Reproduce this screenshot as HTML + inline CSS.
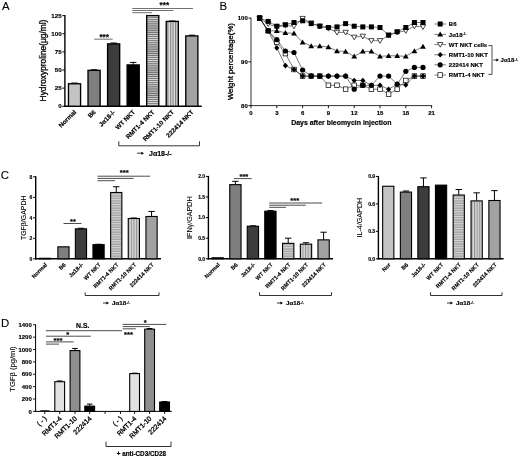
<!DOCTYPE html>
<html><head><meta charset="utf-8"><title>Figure</title>
<style>html,body{margin:0;padding:0;background:#fff}svg{display:block;filter:blur(0.35px)}text{font-family:"Liberation Sans", sans-serif;stroke:#000;stroke-width:0.16px}text[font-weight=normal]{stroke-width:0.1px}</style>
</head><body>
<svg width="520" height="457" viewBox="0 0 520 457">
<defs>
<pattern id="hs" width="4" height="2.1" patternUnits="userSpaceOnUse"><rect width="4" height="2.1" fill="#dcdcdc"/><rect y="0.3" width="4" height="0.95" fill="#565656"/></pattern>
<pattern id="hsc" width="4" height="2.4" patternUnits="userSpaceOnUse"><rect width="4" height="2.4" fill="#a4a4a4"/><rect y="0.2" width="4" height="0.8" fill="#e6e6e6"/></pattern>
<pattern id="vs" width="2.6" height="4" patternUnits="userSpaceOnUse"><rect width="2.6" height="4" fill="#e6e6e6"/><rect x="0.9" width="1.2" height="4" fill="#7c7c7c"/></pattern>
<pattern id="vsc" width="2.6" height="4" patternUnits="userSpaceOnUse"><rect width="2.6" height="4" fill="#d4d4d4"/><rect x="0.9" width="1.0" height="4" fill="#939393"/></pattern>
<pattern id="dt" width="1" height="1" patternUnits="userSpaceOnUse"><rect width="1" height="1" fill="#b4b4b4"/><rect width="0.5" height="0.5" fill="#8c8c8c"/><rect x="0.5" y="0.5" width="0.5" height="0.5" fill="#8c8c8c"/></pattern>
</defs>
<rect width="520" height="457" fill="#fff"/>
<text x="2.00" y="10.10" font-size="11.4" font-weight="normal" text-anchor="start" fill="#000">A</text>
<text x="219.60" y="10.10" font-size="11.4" font-weight="normal" text-anchor="start" fill="#000">B</text>
<text x="0.70" y="179.30" font-size="11.4" font-weight="normal" text-anchor="start" fill="#000">C</text>
<text x="0.90" y="327.10" font-size="11.4" font-weight="normal" text-anchor="start" fill="#000">D</text>
<line x1="64.90" y1="15.12" x2="64.90" y2="106.95" stroke="#000" stroke-width="1.4"/>
<line x1="64.20" y1="106.25" x2="201.80" y2="106.25" stroke="#000" stroke-width="1.5"/>
<line x1="62.30" y1="106.25" x2="64.90" y2="106.25" stroke="#000" stroke-width="1.0"/>
<text x="61.60" y="108.48" font-size="6.2" font-weight="bold" text-anchor="end" fill="#000">0</text>
<line x1="62.30" y1="88.12" x2="64.90" y2="88.12" stroke="#000" stroke-width="1.0"/>
<text x="61.60" y="90.36" font-size="6.2" font-weight="bold" text-anchor="end" fill="#000">25</text>
<line x1="62.30" y1="70.00" x2="64.90" y2="70.00" stroke="#000" stroke-width="1.0"/>
<text x="61.60" y="72.23" font-size="6.2" font-weight="bold" text-anchor="end" fill="#000">50</text>
<line x1="62.30" y1="51.88" x2="64.90" y2="51.88" stroke="#000" stroke-width="1.0"/>
<text x="61.60" y="54.11" font-size="6.2" font-weight="bold" text-anchor="end" fill="#000">75</text>
<line x1="62.30" y1="33.75" x2="64.90" y2="33.75" stroke="#000" stroke-width="1.0"/>
<text x="61.60" y="35.98" font-size="6.2" font-weight="bold" text-anchor="end" fill="#000">100</text>
<line x1="62.30" y1="15.62" x2="64.90" y2="15.62" stroke="#000" stroke-width="1.0"/>
<text x="61.60" y="17.86" font-size="6.2" font-weight="bold" text-anchor="end" fill="#000">125</text>
<line x1="74.52" y1="83.78" x2="74.52" y2="83.05" stroke="#000" stroke-width="1.0"/>
<line x1="71.32" y1="83.05" x2="77.72" y2="83.05" stroke="#000" stroke-width="1.0"/>
<rect x="68.47" y="83.78" width="12.10" height="22.47" fill="#c4c4c4" stroke="#000" stroke-width="1.35"/>
<text x="76.72" y="112.65" font-size="6.3" font-weight="bold" text-anchor="end" fill="#000" transform="rotate(-45 76.72 112.65)">Normal</text>
<line x1="94.07" y1="70.36" x2="94.07" y2="69.78" stroke="#000" stroke-width="1.0"/>
<line x1="90.87" y1="69.78" x2="97.27" y2="69.78" stroke="#000" stroke-width="1.0"/>
<rect x="88.02" y="70.36" width="12.10" height="35.89" fill="#7f7f7f" stroke="#000" stroke-width="1.35"/>
<text x="96.27" y="112.65" font-size="6.3" font-weight="bold" text-anchor="end" fill="#000" transform="rotate(-45 96.27 112.65)">B6</text>
<line x1="113.62" y1="43.90" x2="113.62" y2="43.03" stroke="#000" stroke-width="1.0"/>
<line x1="110.42" y1="43.03" x2="116.83" y2="43.03" stroke="#000" stroke-width="1.0"/>
<rect x="107.58" y="43.90" width="12.10" height="62.35" fill="#3c3c3c" stroke="#000" stroke-width="1.35"/>
<text x="115.83" y="112.65" font-size="6.3" font-weight="bold" text-anchor="end" fill="#000" transform="rotate(-45 115.83 112.65)">Jα18-/-</text>
<line x1="133.18" y1="64.93" x2="133.18" y2="62.39" stroke="#000" stroke-width="1.0"/>
<line x1="129.98" y1="62.39" x2="136.38" y2="62.39" stroke="#000" stroke-width="1.0"/>
<rect x="127.12" y="64.93" width="12.10" height="41.32" fill="#000" stroke="#000" stroke-width="1.35"/>
<text x="135.38" y="112.65" font-size="6.3" font-weight="bold" text-anchor="end" fill="#000" transform="rotate(-45 135.38 112.65)">WT NKT</text>
<rect x="146.68" y="15.62" width="12.10" height="90.62" fill="url(#hs)" stroke="#000" stroke-width="1.35"/>
<text x="154.92" y="112.65" font-size="6.3" font-weight="bold" text-anchor="end" fill="#000" transform="rotate(-45 154.92 112.65)">RMT1-4 NKT</text>
<line x1="172.28" y1="21.42" x2="172.28" y2="20.99" stroke="#000" stroke-width="1.0"/>
<line x1="169.08" y1="20.99" x2="175.47" y2="20.99" stroke="#000" stroke-width="1.0"/>
<rect x="166.23" y="21.42" width="12.10" height="84.83" fill="url(#vs)" stroke="#000" stroke-width="1.35"/>
<text x="174.47" y="112.65" font-size="6.3" font-weight="bold" text-anchor="end" fill="#000" transform="rotate(-45 174.47 112.65)">RMT1-10 NKT</text>
<line x1="191.83" y1="35.92" x2="191.83" y2="35.20" stroke="#000" stroke-width="1.0"/>
<line x1="188.63" y1="35.20" x2="195.03" y2="35.20" stroke="#000" stroke-width="1.0"/>
<rect x="185.78" y="35.92" width="12.10" height="70.33" fill="url(#dt)" stroke="#000" stroke-width="1.35"/>
<text x="194.03" y="112.65" font-size="6.3" font-weight="bold" text-anchor="end" fill="#000" transform="rotate(-45 194.03 112.65)">222414 NKT</text>
<text x="45.60" y="60.50" font-size="8.35" font-weight="normal" text-anchor="middle" fill="#000" transform="rotate(-90 45.60 60.50)" style="stroke-width:0.3px">Hydroxyproline(μg/ml)</text>
<polyline points="118.80,141.30 118.80,145.80 199.50,145.80 199.50,141.30" fill="none" stroke="#000" stroke-width="0.8"/>
<line x1="137.00" y1="153.20" x2="142.50" y2="153.20" stroke="#000" stroke-width="0.8"/>
<polygon points="144.00,153.20 141.40,151.70 141.40,154.70" fill="#000"/>
<text x="149.00" y="155.72" font-size="7.0" font-weight="bold" text-anchor="start" fill="#000">Jα18-/-</text>
<line x1="94.20" y1="39.20" x2="112.70" y2="39.20" stroke="#222" stroke-width="0.65"/>
<text x="104.20" y="40.20" font-size="8.2" font-weight="bold" text-anchor="middle" fill="#000">***</text>
<line x1="132.30" y1="8.50" x2="193.00" y2="8.50" stroke="#222" stroke-width="0.65"/>
<line x1="132.30" y1="10.50" x2="173.40" y2="10.50" stroke="#222" stroke-width="0.65"/>
<line x1="132.30" y1="12.70" x2="152.00" y2="12.70" stroke="#222" stroke-width="0.65"/>
<text x="164.30" y="7.50" font-size="8.2" font-weight="bold" text-anchor="middle" fill="#000">***</text>
<line x1="251.00" y1="17.70" x2="251.00" y2="106.00" stroke="#333" stroke-width="1.0"/>
<line x1="250.50" y1="105.60" x2="432.10" y2="105.60" stroke="#333" stroke-width="1.0"/>
<line x1="248.40" y1="105.60" x2="251.00" y2="105.60" stroke="#000" stroke-width="0.9"/>
<text x="247.80" y="107.80" font-size="6" font-weight="bold" text-anchor="end" fill="#000">80</text>
<line x1="248.40" y1="61.85" x2="251.00" y2="61.85" stroke="#000" stroke-width="0.9"/>
<text x="247.80" y="64.05" font-size="6" font-weight="bold" text-anchor="end" fill="#000">90</text>
<line x1="248.40" y1="18.10" x2="251.00" y2="18.10" stroke="#000" stroke-width="0.9"/>
<text x="247.80" y="20.30" font-size="6" font-weight="bold" text-anchor="end" fill="#000">100</text>
<line x1="251.00" y1="105.60" x2="251.00" y2="108.20" stroke="#000" stroke-width="0.9"/>
<text x="251.00" y="114.60" font-size="6" font-weight="bold" text-anchor="middle" fill="#000">0</text>
<line x1="276.80" y1="105.60" x2="276.80" y2="108.20" stroke="#000" stroke-width="0.9"/>
<text x="276.80" y="114.60" font-size="6" font-weight="bold" text-anchor="middle" fill="#000">3</text>
<line x1="302.60" y1="105.60" x2="302.60" y2="108.20" stroke="#000" stroke-width="0.9"/>
<text x="302.60" y="114.60" font-size="6" font-weight="bold" text-anchor="middle" fill="#000">6</text>
<line x1="328.40" y1="105.60" x2="328.40" y2="108.20" stroke="#000" stroke-width="0.9"/>
<text x="328.40" y="114.60" font-size="6" font-weight="bold" text-anchor="middle" fill="#000">9</text>
<line x1="354.20" y1="105.60" x2="354.20" y2="108.20" stroke="#000" stroke-width="0.9"/>
<text x="354.20" y="114.60" font-size="6" font-weight="bold" text-anchor="middle" fill="#000">12</text>
<line x1="380.00" y1="105.60" x2="380.00" y2="108.20" stroke="#000" stroke-width="0.9"/>
<text x="380.00" y="114.60" font-size="6" font-weight="bold" text-anchor="middle" fill="#000">15</text>
<line x1="405.80" y1="105.60" x2="405.80" y2="108.20" stroke="#000" stroke-width="0.9"/>
<text x="405.80" y="114.60" font-size="6" font-weight="bold" text-anchor="middle" fill="#000">18</text>
<line x1="431.60" y1="105.60" x2="431.60" y2="108.20" stroke="#000" stroke-width="0.9"/>
<text x="431.60" y="114.60" font-size="6" font-weight="bold" text-anchor="middle" fill="#000">21</text>
<text x="341.30" y="125.20" font-size="6.95" font-weight="bold" text-anchor="middle" fill="#000">Days after bleomycin injection</text>
<text x="232.90" y="61.60" font-size="7.75" font-weight="normal" text-anchor="middle" fill="#000" transform="rotate(-90 232.90 61.60)" style="stroke-width:0.3px">Weight percentage(%)</text>
<polyline points="259.60,18.10 268.20,30.80 276.80,42.20 285.40,53.60 294.00,69.50 302.60,76.10 311.20,76.10 319.80,76.10 328.40,85.30 337.00,85.30 345.60,89.20 354.20,85.30 362.80,85.30 371.40,89.20 380.00,89.20 388.60,94.10 397.20,89.20 405.80,80.50 414.40,76.10 423.00,76.10" fill="none" stroke="#222" stroke-width="0.6"/>
<rect x="257.30" y="15.80" width="4.6" height="4.6" fill="#fff" stroke="#000" stroke-width="0.7"/>
<rect x="265.90" y="28.50" width="4.6" height="4.6" fill="#fff" stroke="#000" stroke-width="0.7"/>
<rect x="274.50" y="39.90" width="4.6" height="4.6" fill="#fff" stroke="#000" stroke-width="0.7"/>
<rect x="283.10" y="51.30" width="4.6" height="4.6" fill="#fff" stroke="#000" stroke-width="0.7"/>
<rect x="291.70" y="67.20" width="4.6" height="4.6" fill="#fff" stroke="#000" stroke-width="0.7"/>
<rect x="300.30" y="73.80" width="4.6" height="4.6" fill="#fff" stroke="#000" stroke-width="0.7"/>
<rect x="308.90" y="73.80" width="4.6" height="4.6" fill="#fff" stroke="#000" stroke-width="0.7"/>
<rect x="317.50" y="73.80" width="4.6" height="4.6" fill="#fff" stroke="#000" stroke-width="0.7"/>
<rect x="326.10" y="83.00" width="4.6" height="4.6" fill="#fff" stroke="#000" stroke-width="0.7"/>
<rect x="334.70" y="83.00" width="4.6" height="4.6" fill="#fff" stroke="#000" stroke-width="0.7"/>
<rect x="343.30" y="86.90" width="4.6" height="4.6" fill="#fff" stroke="#000" stroke-width="0.7"/>
<rect x="351.90" y="83.00" width="4.6" height="4.6" fill="#fff" stroke="#000" stroke-width="0.7"/>
<rect x="360.50" y="83.00" width="4.6" height="4.6" fill="#fff" stroke="#000" stroke-width="0.7"/>
<rect x="369.10" y="86.90" width="4.6" height="4.6" fill="#fff" stroke="#000" stroke-width="0.7"/>
<rect x="377.70" y="86.90" width="4.6" height="4.6" fill="#fff" stroke="#000" stroke-width="0.7"/>
<rect x="386.30" y="91.80" width="4.6" height="4.6" fill="#fff" stroke="#000" stroke-width="0.7"/>
<rect x="394.90" y="86.90" width="4.6" height="4.6" fill="#fff" stroke="#000" stroke-width="0.7"/>
<rect x="403.50" y="78.20" width="4.6" height="4.6" fill="#fff" stroke="#000" stroke-width="0.7"/>
<rect x="412.10" y="73.80" width="4.6" height="4.6" fill="#fff" stroke="#000" stroke-width="0.7"/>
<rect x="420.70" y="73.80" width="4.6" height="4.6" fill="#fff" stroke="#000" stroke-width="0.7"/>
<polyline points="259.60,18.10 268.20,24.00 276.80,26.90 285.40,25.50 294.00,26.20 302.60,18.50 311.20,23.00 319.80,26.20 328.40,28.50 337.00,32.40 345.60,32.40 354.20,37.20 362.80,36.30 371.40,40.70 380.00,40.70 388.60,35.20 397.20,32.40 405.80,30.80 414.40,26.20 423.00,26.90" fill="none" stroke="#222" stroke-width="0.6"/>
<polygon points="259.60,20.70 256.90,16.00 262.30,16.00" fill="#fff" stroke="#000" stroke-width="0.7"/>
<polygon points="268.20,26.60 265.50,21.90 270.90,21.90" fill="#fff" stroke="#000" stroke-width="0.7"/>
<polygon points="276.80,29.50 274.10,24.80 279.50,24.80" fill="#fff" stroke="#000" stroke-width="0.7"/>
<polygon points="285.40,28.10 282.70,23.40 288.10,23.40" fill="#fff" stroke="#000" stroke-width="0.7"/>
<polygon points="294.00,28.80 291.30,24.10 296.70,24.10" fill="#fff" stroke="#000" stroke-width="0.7"/>
<polygon points="302.60,21.10 299.90,16.40 305.30,16.40" fill="#fff" stroke="#000" stroke-width="0.7"/>
<polygon points="311.20,25.60 308.50,20.90 313.90,20.90" fill="#fff" stroke="#000" stroke-width="0.7"/>
<polygon points="319.80,28.80 317.10,24.10 322.50,24.10" fill="#fff" stroke="#000" stroke-width="0.7"/>
<polygon points="328.40,31.10 325.70,26.40 331.10,26.40" fill="#fff" stroke="#000" stroke-width="0.7"/>
<polygon points="337.00,35.00 334.30,30.30 339.70,30.30" fill="#fff" stroke="#000" stroke-width="0.7"/>
<polygon points="345.60,35.00 342.90,30.30 348.30,30.30" fill="#fff" stroke="#000" stroke-width="0.7"/>
<polygon points="354.20,39.80 351.50,35.10 356.90,35.10" fill="#fff" stroke="#000" stroke-width="0.7"/>
<polygon points="362.80,38.90 360.10,34.20 365.50,34.20" fill="#fff" stroke="#000" stroke-width="0.7"/>
<polygon points="371.40,43.30 368.70,38.60 374.10,38.60" fill="#fff" stroke="#000" stroke-width="0.7"/>
<polygon points="380.00,43.30 377.30,38.60 382.70,38.60" fill="#fff" stroke="#000" stroke-width="0.7"/>
<polygon points="388.60,37.80 385.90,33.10 391.30,33.10" fill="#fff" stroke="#000" stroke-width="0.7"/>
<polygon points="397.20,35.00 394.50,30.30 399.90,30.30" fill="#fff" stroke="#000" stroke-width="0.7"/>
<polygon points="405.80,33.40 403.10,28.70 408.50,28.70" fill="#fff" stroke="#000" stroke-width="0.7"/>
<polygon points="414.40,28.80 411.70,24.10 417.10,24.10" fill="#fff" stroke="#000" stroke-width="0.7"/>
<polygon points="423.00,29.50 420.30,24.80 425.70,24.80" fill="#fff" stroke="#000" stroke-width="0.7"/>
<polyline points="259.60,18.10 268.20,21.40 276.80,26.20 285.40,24.70 294.00,22.50 302.60,20.80 311.20,23.60 319.80,26.20 328.40,27.50 337.00,26.90 345.60,23.60 354.20,26.20 362.80,26.90 371.40,26.90 380.00,27.50 388.60,35.20 397.20,31.70 405.80,27.50 414.40,22.50 423.00,22.50" fill="none" stroke="#222" stroke-width="0.6"/>
<rect x="257.10" y="15.60" width="5.0" height="5.0" fill="#000"/>
<rect x="265.70" y="18.90" width="5.0" height="5.0" fill="#000"/>
<rect x="274.30" y="23.70" width="5.0" height="5.0" fill="#000"/>
<rect x="282.90" y="22.20" width="5.0" height="5.0" fill="#000"/>
<rect x="291.50" y="20.00" width="5.0" height="5.0" fill="#000"/>
<rect x="300.10" y="18.30" width="5.0" height="5.0" fill="#000"/>
<rect x="308.70" y="21.10" width="5.0" height="5.0" fill="#000"/>
<rect x="317.30" y="23.70" width="5.0" height="5.0" fill="#000"/>
<rect x="325.90" y="25.00" width="5.0" height="5.0" fill="#000"/>
<rect x="334.50" y="24.40" width="5.0" height="5.0" fill="#000"/>
<rect x="343.10" y="21.10" width="5.0" height="5.0" fill="#000"/>
<rect x="351.70" y="23.70" width="5.0" height="5.0" fill="#000"/>
<rect x="360.30" y="24.40" width="5.0" height="5.0" fill="#000"/>
<rect x="368.90" y="24.40" width="5.0" height="5.0" fill="#000"/>
<rect x="377.50" y="25.00" width="5.0" height="5.0" fill="#000"/>
<rect x="386.10" y="32.70" width="5.0" height="5.0" fill="#000"/>
<rect x="394.70" y="29.20" width="5.0" height="5.0" fill="#000"/>
<rect x="403.30" y="25.00" width="5.0" height="5.0" fill="#000"/>
<rect x="411.90" y="20.00" width="5.0" height="5.0" fill="#000"/>
<rect x="420.50" y="20.00" width="5.0" height="5.0" fill="#000"/>
<polyline points="259.60,18.10 268.20,30.80 276.80,30.80 285.40,32.80 294.00,33.40 302.60,42.20 311.20,46.10 319.80,46.10 328.40,47.00 337.00,51.00 345.60,51.50 354.20,56.40 362.80,51.40 371.40,51.40 380.00,56.40 388.60,55.80 397.20,55.80 405.80,56.40 414.40,51.00 423.00,46.60" fill="none" stroke="#222" stroke-width="0.6"/>
<polygon points="259.60,15.30 256.70,20.30 262.50,20.30" fill="#000"/>
<polygon points="268.20,28.00 265.30,33.00 271.10,33.00" fill="#000"/>
<polygon points="276.80,28.00 273.90,33.00 279.70,33.00" fill="#000"/>
<polygon points="285.40,30.00 282.50,35.00 288.30,35.00" fill="#000"/>
<polygon points="294.00,30.60 291.10,35.60 296.90,35.60" fill="#000"/>
<polygon points="302.60,39.40 299.70,44.40 305.50,44.40" fill="#000"/>
<polygon points="311.20,43.30 308.30,48.30 314.10,48.30" fill="#000"/>
<polygon points="319.80,43.30 316.90,48.30 322.70,48.30" fill="#000"/>
<polygon points="328.40,44.20 325.50,49.20 331.30,49.20" fill="#000"/>
<polygon points="337.00,48.20 334.10,53.20 339.90,53.20" fill="#000"/>
<polygon points="345.60,48.70 342.70,53.70 348.50,53.70" fill="#000"/>
<polygon points="354.20,53.60 351.30,58.60 357.10,58.60" fill="#000"/>
<polygon points="362.80,48.60 359.90,53.60 365.70,53.60" fill="#000"/>
<polygon points="371.40,48.60 368.50,53.60 374.30,53.60" fill="#000"/>
<polygon points="380.00,53.60 377.10,58.60 382.90,58.60" fill="#000"/>
<polygon points="388.60,53.00 385.70,58.00 391.50,58.00" fill="#000"/>
<polygon points="397.20,53.00 394.30,58.00 400.10,58.00" fill="#000"/>
<polygon points="405.80,53.60 402.90,58.60 408.70,58.60" fill="#000"/>
<polygon points="414.40,48.20 411.50,53.20 417.30,53.20" fill="#000"/>
<polygon points="423.00,43.80 420.10,48.80 425.90,48.80" fill="#000"/>
<polyline points="259.60,18.10 268.20,30.80 276.80,47.90 285.40,65.60 294.00,69.50 302.60,76.10 311.20,76.10 319.80,76.10 328.40,76.10 337.00,76.10 345.60,76.10 354.20,80.50 362.80,80.50 371.40,85.30 380.00,85.30 388.60,89.20 397.20,84.20 405.80,84.90 414.40,76.10 423.00,76.10" fill="none" stroke="#222" stroke-width="0.6"/>
<polygon points="259.60,15.30 262.20,18.10 259.60,20.90 257.00,18.10" fill="#000"/>
<polygon points="268.20,28.00 270.80,30.80 268.20,33.60 265.60,30.80" fill="#000"/>
<polygon points="276.80,45.10 279.40,47.90 276.80,50.70 274.20,47.90" fill="#000"/>
<polygon points="285.40,62.80 288.00,65.60 285.40,68.40 282.80,65.60" fill="#000"/>
<polygon points="294.00,66.70 296.60,69.50 294.00,72.30 291.40,69.50" fill="#000"/>
<polygon points="302.60,73.30 305.20,76.10 302.60,78.90 300.00,76.10" fill="#000"/>
<polygon points="311.20,73.30 313.80,76.10 311.20,78.90 308.60,76.10" fill="#000"/>
<polygon points="319.80,73.30 322.40,76.10 319.80,78.90 317.20,76.10" fill="#000"/>
<polygon points="328.40,73.30 331.00,76.10 328.40,78.90 325.80,76.10" fill="#000"/>
<polygon points="337.00,73.30 339.60,76.10 337.00,78.90 334.40,76.10" fill="#000"/>
<polygon points="345.60,73.30 348.20,76.10 345.60,78.90 343.00,76.10" fill="#000"/>
<polygon points="354.20,77.70 356.80,80.50 354.20,83.30 351.60,80.50" fill="#000"/>
<polygon points="362.80,77.70 365.40,80.50 362.80,83.30 360.20,80.50" fill="#000"/>
<polygon points="371.40,82.50 374.00,85.30 371.40,88.10 368.80,85.30" fill="#000"/>
<polygon points="380.00,82.50 382.60,85.30 380.00,88.10 377.40,85.30" fill="#000"/>
<polygon points="388.60,86.40 391.20,89.20 388.60,92.00 386.00,89.20" fill="#000"/>
<polygon points="397.20,81.40 399.80,84.20 397.20,87.00 394.60,84.20" fill="#000"/>
<polygon points="405.80,82.10 408.40,84.90 405.80,87.70 403.20,84.90" fill="#000"/>
<polygon points="414.40,73.30 417.00,76.10 414.40,78.90 411.80,76.10" fill="#000"/>
<polygon points="423.00,73.30 425.60,76.10 423.00,78.90 420.40,76.10" fill="#000"/>
<polyline points="259.60,18.10 268.20,30.80 276.80,39.60 285.40,51.00 294.00,52.50 302.60,70.00 311.20,76.10 319.80,76.10 328.40,76.10 337.00,76.10 345.60,76.10 354.20,89.20 362.80,85.30 371.40,85.30 380.00,76.10 388.60,76.10 397.20,84.20 405.80,71.30 414.40,67.40 423.00,67.40" fill="none" stroke="#222" stroke-width="0.6"/>
<circle cx="259.60" cy="18.10" r="2.6" fill="#000"/>
<circle cx="268.20" cy="30.80" r="2.6" fill="#000"/>
<circle cx="276.80" cy="39.60" r="2.6" fill="#000"/>
<circle cx="285.40" cy="51.00" r="2.6" fill="#000"/>
<circle cx="294.00" cy="52.50" r="2.6" fill="#000"/>
<circle cx="302.60" cy="70.00" r="2.6" fill="#000"/>
<circle cx="311.20" cy="76.10" r="2.6" fill="#000"/>
<circle cx="319.80" cy="76.10" r="2.6" fill="#000"/>
<circle cx="328.40" cy="76.10" r="2.6" fill="#000"/>
<circle cx="337.00" cy="76.10" r="2.6" fill="#000"/>
<circle cx="345.60" cy="76.10" r="2.6" fill="#000"/>
<circle cx="354.20" cy="89.20" r="2.6" fill="#000"/>
<circle cx="362.80" cy="85.30" r="2.6" fill="#000"/>
<circle cx="371.40" cy="85.30" r="2.6" fill="#000"/>
<circle cx="380.00" cy="76.10" r="2.6" fill="#000"/>
<circle cx="388.60" cy="76.10" r="2.6" fill="#000"/>
<circle cx="397.20" cy="84.20" r="2.6" fill="#000"/>
<circle cx="405.80" cy="71.30" r="2.6" fill="#000"/>
<circle cx="414.40" cy="67.40" r="2.6" fill="#000"/>
<circle cx="423.00" cy="67.40" r="2.6" fill="#000"/>
<line x1="434.40" y1="24.00" x2="446.00" y2="24.00" stroke="#222" stroke-width="0.6"/>
<rect x="437.70" y="21.50" width="5.0" height="5.0" fill="#000"/>
<text x="448.80" y="26.20" font-size="6.0" font-weight="bold" text-anchor="start" fill="#000">B6</text>
<line x1="434.40" y1="34.40" x2="446.00" y2="34.40" stroke="#222" stroke-width="0.6"/>
<polygon points="440.20,31.60 437.30,36.60 443.10,36.60" fill="#000"/>
<text x="448.80" y="36.60" font-size="6.0" font-weight="bold" text-anchor="start" fill="#000">Jα18<tspan font-size="70%" dy="-1.6">-/-</tspan></text>
<line x1="434.40" y1="44.60" x2="446.00" y2="44.60" stroke="#222" stroke-width="0.6"/>
<polygon points="440.20,47.20 437.50,42.50 442.90,42.50" fill="#fff" stroke="#000" stroke-width="0.7"/>
<text x="448.80" y="46.80" font-size="6.0" font-weight="bold" text-anchor="start" fill="#000">WT NKT cells</text>
<line x1="434.40" y1="54.80" x2="446.00" y2="54.80" stroke="#222" stroke-width="0.6"/>
<polygon points="440.20,52.00 442.80,54.80 440.20,57.60 437.60,54.80" fill="#000"/>
<text x="448.80" y="57.00" font-size="6.0" font-weight="bold" text-anchor="start" fill="#000">RMT1-10 NKT</text>
<line x1="434.40" y1="64.80" x2="446.00" y2="64.80" stroke="#222" stroke-width="0.6"/>
<circle cx="440.20" cy="64.80" r="2.6" fill="#000"/>
<text x="448.80" y="67.00" font-size="6.0" font-weight="bold" text-anchor="start" fill="#000">222414 NKT</text>
<line x1="434.40" y1="75.00" x2="446.00" y2="75.00" stroke="#222" stroke-width="0.6"/>
<rect x="437.90" y="72.70" width="4.6" height="4.6" fill="#fff" stroke="#000" stroke-width="0.7"/>
<text x="448.80" y="77.20" font-size="6.0" font-weight="bold" text-anchor="start" fill="#000">RMT1-4 NKT</text>
<polyline points="488.3,45.6 492,45.6 492,74.4 488.3,74.4" fill="none" stroke="#000" stroke-width="0.7"/>
<line x1="493.50" y1="60.00" x2="497.50" y2="60.00" stroke="#000" stroke-width="0.8"/>
<polygon points="499.00,60.00 496.40,58.50 496.40,61.50" fill="#000"/>
<text x="500.60" y="62.20" font-size="6.0" font-weight="bold" text-anchor="start" fill="#000">Jα18<tspan font-size="70%" dy="-1.6">-/-</tspan></text>
<line x1="35.70" y1="176.30" x2="35.70" y2="259.50" stroke="#000" stroke-width="1.4"/>
<line x1="35.00" y1="258.80" x2="161.00" y2="258.80" stroke="#000" stroke-width="1.5"/>
<line x1="33.10" y1="258.80" x2="35.70" y2="258.80" stroke="#000" stroke-width="1.0"/>
<text x="32.40" y="260.60" font-size="5.0" font-weight="bold" text-anchor="end" fill="#000">0</text>
<line x1="33.10" y1="238.30" x2="35.70" y2="238.30" stroke="#000" stroke-width="1.0"/>
<text x="32.40" y="240.10" font-size="5.0" font-weight="bold" text-anchor="end" fill="#000">2</text>
<line x1="33.10" y1="217.80" x2="35.70" y2="217.80" stroke="#000" stroke-width="1.0"/>
<text x="32.40" y="219.60" font-size="5.0" font-weight="bold" text-anchor="end" fill="#000">4</text>
<line x1="33.10" y1="197.30" x2="35.70" y2="197.30" stroke="#000" stroke-width="1.0"/>
<text x="32.40" y="199.10" font-size="5.0" font-weight="bold" text-anchor="end" fill="#000">6</text>
<line x1="33.10" y1="176.80" x2="35.70" y2="176.80" stroke="#000" stroke-width="1.0"/>
<text x="32.40" y="178.60" font-size="5.0" font-weight="bold" text-anchor="end" fill="#000">8</text>
<rect x="39.15" y="258.29" width="11.20" height="0.51" fill="#c4c4c4" stroke="#000" stroke-width="1.1"/>
<text x="47.45" y="265.20" font-size="5.55" font-weight="bold" text-anchor="end" fill="#000" transform="rotate(-45 47.45 265.20)">Normal</text>
<rect x="57.85" y="246.81" width="11.20" height="11.99" fill="#7f7f7f" stroke="#000" stroke-width="1.1"/>
<text x="66.15" y="265.20" font-size="5.55" font-weight="bold" text-anchor="end" fill="#000" transform="rotate(-45 66.15 265.20)">B6</text>
<line x1="80.95" y1="228.87" x2="80.95" y2="228.26" stroke="#000" stroke-width="1.0"/>
<line x1="77.75" y1="228.26" x2="84.15" y2="228.26" stroke="#000" stroke-width="1.0"/>
<rect x="75.35" y="228.87" width="11.20" height="29.93" fill="#3c3c3c" stroke="#000" stroke-width="1.1"/>
<text x="83.65" y="265.20" font-size="5.55" font-weight="bold" text-anchor="end" fill="#000" transform="rotate(-45 83.65 265.20)">Jα18-/-</text>
<line x1="98.55" y1="244.66" x2="98.55" y2="244.25" stroke="#000" stroke-width="1.0"/>
<line x1="95.35" y1="244.25" x2="101.75" y2="244.25" stroke="#000" stroke-width="1.0"/>
<rect x="92.95" y="244.66" width="11.20" height="14.15" fill="#000" stroke="#000" stroke-width="1.1"/>
<text x="101.25" y="265.20" font-size="5.55" font-weight="bold" text-anchor="end" fill="#000" transform="rotate(-45 101.25 265.20)">WT NKT</text>
<line x1="116.25" y1="192.48" x2="116.25" y2="186.74" stroke="#000" stroke-width="1.0"/>
<line x1="113.05" y1="186.74" x2="119.45" y2="186.74" stroke="#000" stroke-width="1.0"/>
<rect x="110.65" y="192.48" width="11.20" height="66.32" fill="url(#hsc)" stroke="#000" stroke-width="1.1"/>
<text x="118.95" y="265.20" font-size="5.55" font-weight="bold" text-anchor="end" fill="#000" transform="rotate(-45 118.95 265.20)">RMT1-4 NKT</text>
<line x1="133.85" y1="218.52" x2="133.85" y2="218.00" stroke="#000" stroke-width="1.0"/>
<line x1="130.65" y1="218.00" x2="137.05" y2="218.00" stroke="#000" stroke-width="1.0"/>
<rect x="128.25" y="218.52" width="11.20" height="40.28" fill="url(#vsc)" stroke="#000" stroke-width="1.1"/>
<text x="136.55" y="265.20" font-size="5.55" font-weight="bold" text-anchor="end" fill="#000" transform="rotate(-45 136.55 265.20)">RMT1-10 NKT</text>
<line x1="151.55" y1="216.47" x2="151.55" y2="211.44" stroke="#000" stroke-width="1.0"/>
<line x1="148.35" y1="211.44" x2="154.75" y2="211.44" stroke="#000" stroke-width="1.0"/>
<rect x="145.95" y="216.47" width="11.20" height="42.33" fill="url(#dt)" stroke="#000" stroke-width="1.1"/>
<text x="154.25" y="265.20" font-size="5.55" font-weight="bold" text-anchor="end" fill="#000" transform="rotate(-45 154.25 265.20)">222414 NKT</text>
<text x="25.80" y="217.80" font-size="6.95" font-weight="normal" text-anchor="middle" fill="#000" transform="rotate(-90 25.80 217.80)">TGFβ/GAPDH</text>
<polyline points="85.20,292.30 85.20,295.50 159.00,295.50 159.00,292.30" fill="none" stroke="#000" stroke-width="0.8"/>
<line x1="103.00" y1="303.00" x2="107.50" y2="303.00" stroke="#000" stroke-width="0.8"/>
<polygon points="109.00,303.00 106.40,301.50 106.40,304.50" fill="#000"/>
<text x="112.00" y="305.23" font-size="6.2" font-weight="bold" text-anchor="start" fill="#000">Jα18<tspan font-size="70%" dy="-1.6">-/-</tspan></text>
<line x1="63.50" y1="223.50" x2="81.50" y2="223.50" stroke="#000" stroke-width="0.7"/>
<text x="72.90" y="223.60" font-size="7.4" font-weight="bold" text-anchor="middle" fill="#000">**</text>
<line x1="97.50" y1="176.20" x2="150.00" y2="176.20" stroke="#000" stroke-width="0.7"/>
<line x1="97.50" y1="178.40" x2="133.60" y2="178.40" stroke="#000" stroke-width="0.7"/>
<line x1="97.50" y1="180.70" x2="115.00" y2="180.70" stroke="#000" stroke-width="0.7"/>
<text x="124.30" y="175.20" font-size="7.6" font-weight="bold" text-anchor="middle" fill="#000">***</text>
<line x1="208.40" y1="175.90" x2="208.40" y2="259.50" stroke="#000" stroke-width="1.4"/>
<line x1="207.70" y1="258.80" x2="333.00" y2="258.80" stroke="#000" stroke-width="1.5"/>
<line x1="205.80" y1="258.80" x2="208.40" y2="258.80" stroke="#000" stroke-width="1.0"/>
<text x="205.10" y="260.60" font-size="5.0" font-weight="bold" text-anchor="end" fill="#000">0.0</text>
<line x1="205.80" y1="238.20" x2="208.40" y2="238.20" stroke="#000" stroke-width="1.0"/>
<text x="205.10" y="240.00" font-size="5.0" font-weight="bold" text-anchor="end" fill="#000">0.5</text>
<line x1="205.80" y1="217.60" x2="208.40" y2="217.60" stroke="#000" stroke-width="1.0"/>
<text x="205.10" y="219.40" font-size="5.0" font-weight="bold" text-anchor="end" fill="#000">1.0</text>
<line x1="205.80" y1="197.00" x2="208.40" y2="197.00" stroke="#000" stroke-width="1.0"/>
<text x="205.10" y="198.80" font-size="5.0" font-weight="bold" text-anchor="end" fill="#000">1.5</text>
<line x1="205.80" y1="176.40" x2="208.40" y2="176.40" stroke="#000" stroke-width="1.0"/>
<text x="205.10" y="178.20" font-size="5.0" font-weight="bold" text-anchor="end" fill="#000">2.0</text>
<rect x="212.05" y="257.77" width="11.30" height="1.03" fill="#c4c4c4" stroke="#000" stroke-width="1.1"/>
<text x="220.40" y="265.20" font-size="5.55" font-weight="bold" text-anchor="end" fill="#000" transform="rotate(-45 220.40 265.20)">Normal</text>
<line x1="235.40" y1="184.64" x2="235.40" y2="181.34" stroke="#000" stroke-width="1.0"/>
<line x1="232.20" y1="181.34" x2="238.60" y2="181.34" stroke="#000" stroke-width="1.0"/>
<rect x="229.75" y="184.64" width="11.30" height="74.16" fill="#7f7f7f" stroke="#000" stroke-width="1.1"/>
<text x="238.10" y="265.20" font-size="5.55" font-weight="bold" text-anchor="end" fill="#000" transform="rotate(-45 238.10 265.20)">B6</text>
<line x1="252.90" y1="226.25" x2="252.90" y2="225.84" stroke="#000" stroke-width="1.0"/>
<line x1="249.70" y1="225.84" x2="256.10" y2="225.84" stroke="#000" stroke-width="1.0"/>
<rect x="247.25" y="226.25" width="11.30" height="32.55" fill="#3c3c3c" stroke="#000" stroke-width="1.1"/>
<text x="255.60" y="265.20" font-size="5.55" font-weight="bold" text-anchor="end" fill="#000" transform="rotate(-45 255.60 265.20)">Jα18-/-</text>
<line x1="270.40" y1="211.21" x2="270.40" y2="210.60" stroke="#000" stroke-width="1.0"/>
<line x1="267.20" y1="210.60" x2="273.60" y2="210.60" stroke="#000" stroke-width="1.0"/>
<rect x="264.75" y="211.21" width="11.30" height="47.59" fill="#000" stroke="#000" stroke-width="1.1"/>
<text x="273.10" y="265.20" font-size="5.55" font-weight="bold" text-anchor="end" fill="#000" transform="rotate(-45 273.10 265.20)">WT NKT</text>
<line x1="288.20" y1="243.35" x2="288.20" y2="238.20" stroke="#000" stroke-width="1.0"/>
<line x1="285.00" y1="238.20" x2="291.40" y2="238.20" stroke="#000" stroke-width="1.0"/>
<rect x="282.55" y="243.35" width="11.30" height="15.45" fill="url(#hsc)" stroke="#000" stroke-width="1.1"/>
<text x="290.90" y="265.20" font-size="5.55" font-weight="bold" text-anchor="end" fill="#000" transform="rotate(-45 290.90 265.20)">RMT1-4 NKT</text>
<line x1="306.00" y1="244.17" x2="306.00" y2="242.73" stroke="#000" stroke-width="1.0"/>
<line x1="302.80" y1="242.73" x2="309.20" y2="242.73" stroke="#000" stroke-width="1.0"/>
<rect x="300.35" y="244.17" width="11.30" height="14.63" fill="url(#vsc)" stroke="#000" stroke-width="1.1"/>
<text x="308.70" y="265.20" font-size="5.55" font-weight="bold" text-anchor="end" fill="#000" transform="rotate(-45 308.70 265.20)">RMT1-10 NKT</text>
<line x1="323.60" y1="239.85" x2="323.60" y2="232.23" stroke="#000" stroke-width="1.0"/>
<line x1="320.40" y1="232.23" x2="326.80" y2="232.23" stroke="#000" stroke-width="1.0"/>
<rect x="317.95" y="239.85" width="11.30" height="18.95" fill="url(#dt)" stroke="#000" stroke-width="1.1"/>
<text x="326.30" y="265.20" font-size="5.55" font-weight="bold" text-anchor="end" fill="#000" transform="rotate(-45 326.30 265.20)">222414 NKT</text>
<text x="192.10" y="217.60" font-size="7.2" font-weight="normal" text-anchor="middle" fill="#000" transform="rotate(-90 192.10 217.60)">IFNγ/GAPDH</text>
<polyline points="259.50,292.30 259.50,295.50 331.50,295.50 331.50,292.30" fill="none" stroke="#000" stroke-width="0.8"/>
<line x1="277.00" y1="303.00" x2="281.50" y2="303.00" stroke="#000" stroke-width="0.8"/>
<polygon points="283.00,303.00 280.40,301.50 280.40,304.50" fill="#000"/>
<text x="286.00" y="305.23" font-size="6.2" font-weight="bold" text-anchor="start" fill="#000">Jα18<tspan font-size="70%" dy="-1.6">-/-</tspan></text>
<line x1="234.00" y1="178.60" x2="251.70" y2="178.60" stroke="#000" stroke-width="0.7"/>
<text x="243.90" y="178.60" font-size="7.6" font-weight="bold" text-anchor="middle" fill="#000">***</text>
<line x1="269.20" y1="203.00" x2="322.20" y2="203.00" stroke="#000" stroke-width="0.7"/>
<line x1="269.20" y1="205.20" x2="305.80" y2="205.20" stroke="#000" stroke-width="0.7"/>
<line x1="269.20" y1="207.30" x2="286.00" y2="207.30" stroke="#000" stroke-width="0.7"/>
<text x="294.80" y="202.90" font-size="7.6" font-weight="bold" text-anchor="middle" fill="#000">***</text>
<line x1="378.40" y1="175.95" x2="378.40" y2="259.50" stroke="#000" stroke-width="1.4"/>
<line x1="377.70" y1="258.80" x2="503.60" y2="258.80" stroke="#000" stroke-width="1.5"/>
<line x1="375.80" y1="258.80" x2="378.40" y2="258.80" stroke="#000" stroke-width="1.0"/>
<text x="375.10" y="260.60" font-size="5.0" font-weight="bold" text-anchor="end" fill="#000">0.0</text>
<line x1="375.80" y1="231.35" x2="378.40" y2="231.35" stroke="#000" stroke-width="1.0"/>
<text x="375.10" y="233.15" font-size="5.0" font-weight="bold" text-anchor="end" fill="#000">0.3</text>
<line x1="375.80" y1="203.90" x2="378.40" y2="203.90" stroke="#000" stroke-width="1.0"/>
<text x="375.10" y="205.70" font-size="5.0" font-weight="bold" text-anchor="end" fill="#000">0.6</text>
<line x1="375.80" y1="176.45" x2="378.40" y2="176.45" stroke="#000" stroke-width="1.0"/>
<text x="375.10" y="178.25" font-size="5.0" font-weight="bold" text-anchor="end" fill="#000">0.9</text>
<rect x="382.65" y="186.24" width="11.20" height="72.56" fill="#c4c4c4" stroke="#000" stroke-width="1.1"/>
<text x="390.95" y="265.20" font-size="5.55" font-weight="bold" text-anchor="end" fill="#000" transform="rotate(-45 390.95 265.20)">Nor</text>
<line x1="405.95" y1="192.10" x2="405.95" y2="191.00" stroke="#000" stroke-width="1.0"/>
<line x1="402.75" y1="191.00" x2="409.15" y2="191.00" stroke="#000" stroke-width="1.0"/>
<rect x="400.35" y="192.10" width="11.20" height="66.70" fill="#7f7f7f" stroke="#000" stroke-width="1.1"/>
<text x="408.65" y="265.20" font-size="5.55" font-weight="bold" text-anchor="end" fill="#000" transform="rotate(-45 408.65 265.20)">B6</text>
<line x1="423.45" y1="186.70" x2="423.45" y2="177.91" stroke="#000" stroke-width="1.0"/>
<line x1="420.25" y1="177.91" x2="426.65" y2="177.91" stroke="#000" stroke-width="1.0"/>
<rect x="417.85" y="186.70" width="11.20" height="72.10" fill="#3c3c3c" stroke="#000" stroke-width="1.1"/>
<text x="426.15" y="265.20" font-size="5.55" font-weight="bold" text-anchor="end" fill="#000" transform="rotate(-45 426.15 265.20)">Jα18-/-</text>
<rect x="435.45" y="185.14" width="11.20" height="73.66" fill="#000" stroke="#000" stroke-width="1.1"/>
<text x="443.75" y="265.20" font-size="5.55" font-weight="bold" text-anchor="end" fill="#000" transform="rotate(-45 443.75 265.20)">WT NKT</text>
<line x1="458.75" y1="195.02" x2="458.75" y2="189.53" stroke="#000" stroke-width="1.0"/>
<line x1="455.55" y1="189.53" x2="461.95" y2="189.53" stroke="#000" stroke-width="1.0"/>
<rect x="453.15" y="195.02" width="11.20" height="63.78" fill="url(#hsc)" stroke="#000" stroke-width="1.1"/>
<text x="461.45" y="265.20" font-size="5.55" font-weight="bold" text-anchor="end" fill="#000" transform="rotate(-45 461.45 265.20)">RMT1-4 NKT</text>
<line x1="476.65" y1="200.88" x2="476.65" y2="192.83" stroke="#000" stroke-width="1.0"/>
<line x1="473.45" y1="192.83" x2="479.85" y2="192.83" stroke="#000" stroke-width="1.0"/>
<rect x="471.05" y="200.88" width="11.20" height="57.92" fill="url(#vsc)" stroke="#000" stroke-width="1.1"/>
<text x="479.35" y="265.20" font-size="5.55" font-weight="bold" text-anchor="end" fill="#000" transform="rotate(-45 479.35 265.20)">RMT1-10 NKT</text>
<line x1="494.45" y1="200.51" x2="494.45" y2="190.63" stroke="#000" stroke-width="1.0"/>
<line x1="491.25" y1="190.63" x2="497.65" y2="190.63" stroke="#000" stroke-width="1.0"/>
<rect x="488.85" y="200.51" width="11.20" height="58.29" fill="url(#dt)" stroke="#000" stroke-width="1.1"/>
<text x="497.15" y="265.20" font-size="5.55" font-weight="bold" text-anchor="end" fill="#000" transform="rotate(-45 497.15 265.20)">222414 NKT</text>
<text x="362.20" y="217.62" font-size="7.15" font-weight="normal" text-anchor="middle" fill="#000" transform="rotate(-90 362.20 217.62)">IL-4/GAPDH</text>
<polyline points="430.50,292.30 430.50,295.50 502.00,295.50 502.00,292.30" fill="none" stroke="#000" stroke-width="0.8"/>
<line x1="447.00" y1="303.00" x2="451.50" y2="303.00" stroke="#000" stroke-width="0.8"/>
<polygon points="453.00,303.00 450.40,301.50 450.40,304.50" fill="#000"/>
<text x="456.00" y="305.23" font-size="6.2" font-weight="bold" text-anchor="start" fill="#000">Jα18<tspan font-size="70%" dy="-1.6">-/-</tspan></text>
<line x1="35.60" y1="324.40" x2="35.60" y2="411.80" stroke="#000" stroke-width="1.0"/>
<line x1="35.10" y1="411.40" x2="171.80" y2="411.40" stroke="#000" stroke-width="1.0"/>
<line x1="33.00" y1="411.40" x2="35.60" y2="411.40" stroke="#000" stroke-width="0.9"/>
<text x="31.80" y="413.60" font-size="6.0" font-weight="bold" text-anchor="end" fill="#000">0</text>
<line x1="33.00" y1="399.03" x2="35.60" y2="399.03" stroke="#000" stroke-width="0.9"/>
<text x="31.80" y="401.23" font-size="6.0" font-weight="bold" text-anchor="end" fill="#000">200</text>
<line x1="33.00" y1="386.66" x2="35.60" y2="386.66" stroke="#000" stroke-width="0.9"/>
<text x="31.80" y="388.86" font-size="6.0" font-weight="bold" text-anchor="end" fill="#000">400</text>
<line x1="33.00" y1="374.28" x2="35.60" y2="374.28" stroke="#000" stroke-width="0.9"/>
<text x="31.80" y="376.48" font-size="6.0" font-weight="bold" text-anchor="end" fill="#000">600</text>
<line x1="33.00" y1="361.91" x2="35.60" y2="361.91" stroke="#000" stroke-width="0.9"/>
<text x="31.80" y="364.11" font-size="6.0" font-weight="bold" text-anchor="end" fill="#000">800</text>
<line x1="33.00" y1="349.54" x2="35.60" y2="349.54" stroke="#000" stroke-width="0.9"/>
<text x="31.80" y="351.74" font-size="6.0" font-weight="bold" text-anchor="end" fill="#000">1000</text>
<line x1="33.00" y1="337.17" x2="35.60" y2="337.17" stroke="#000" stroke-width="0.9"/>
<text x="31.80" y="339.37" font-size="6.0" font-weight="bold" text-anchor="end" fill="#000">1200</text>
<line x1="33.00" y1="324.80" x2="35.60" y2="324.80" stroke="#000" stroke-width="0.9"/>
<text x="31.80" y="327.00" font-size="6.0" font-weight="bold" text-anchor="end" fill="#000">1400</text>
<text x="15.20" y="369.00" font-size="7.6" font-weight="normal" text-anchor="middle" fill="#000" transform="rotate(-90 15.20 369.00)">TGFβ (pg/ml)</text>
<line x1="44.80" y1="411.40" x2="44.80" y2="414.00" stroke="#000" stroke-width="0.9"/>
<line x1="40.30" y1="410.60" x2="49.30" y2="410.60" stroke="#000" stroke-width="0.8"/>
<text x="47.20" y="419.00" font-size="6.8" font-weight="normal" text-anchor="end" fill="#000" transform="rotate(-45 47.20 419.00)" style="stroke-width:0.3px">( - )</text>
<line x1="59.70" y1="411.40" x2="59.70" y2="414.00" stroke="#000" stroke-width="0.9"/>
<line x1="59.70" y1="381.71" x2="59.70" y2="380.96" stroke="#000" stroke-width="1.0"/>
<line x1="56.90" y1="380.96" x2="62.50" y2="380.96" stroke="#000" stroke-width="1.0"/>
<rect x="54.80" y="381.71" width="9.80" height="29.69" fill="#e2e2e2" stroke="#000" stroke-width="1.1"/>
<text x="62.10" y="419.00" font-size="6.8" font-weight="normal" text-anchor="end" fill="#000" transform="rotate(-45 62.10 419.00)" style="stroke-width:0.3px">RMT1-4</text>
<line x1="75.00" y1="411.40" x2="75.00" y2="414.00" stroke="#000" stroke-width="0.9"/>
<line x1="75.00" y1="350.59" x2="75.00" y2="348.43" stroke="#000" stroke-width="1.0"/>
<line x1="72.20" y1="348.43" x2="77.80" y2="348.43" stroke="#000" stroke-width="1.0"/>
<rect x="70.10" y="350.59" width="9.80" height="60.81" fill="#8f8f8f" stroke="#000" stroke-width="1.1"/>
<text x="77.40" y="419.00" font-size="6.8" font-weight="normal" text-anchor="end" fill="#000" transform="rotate(-45 77.40 419.00)" style="stroke-width:0.3px">RMT1-10</text>
<line x1="89.70" y1="411.40" x2="89.70" y2="414.00" stroke="#000" stroke-width="0.9"/>
<line x1="89.70" y1="406.14" x2="89.70" y2="404.10" stroke="#000" stroke-width="1.0"/>
<line x1="86.90" y1="404.10" x2="92.50" y2="404.10" stroke="#000" stroke-width="1.0"/>
<rect x="84.80" y="406.14" width="9.80" height="5.26" fill="#000" stroke="#000" stroke-width="1.1"/>
<text x="92.10" y="419.00" font-size="6.8" font-weight="normal" text-anchor="end" fill="#000" transform="rotate(-45 92.10 419.00)" style="stroke-width:0.3px">222414</text>
<line x1="105.10" y1="411.40" x2="105.10" y2="414.00" stroke="#000" stroke-width="0.9"/>
<line x1="120.50" y1="411.40" x2="120.50" y2="414.00" stroke="#000" stroke-width="0.9"/>
<text x="122.90" y="419.00" font-size="6.8" font-weight="normal" text-anchor="end" fill="#000" transform="rotate(-45 122.90 419.00)" style="stroke-width:0.3px">( - )</text>
<line x1="134.60" y1="411.40" x2="134.60" y2="414.00" stroke="#000" stroke-width="0.9"/>
<line x1="134.60" y1="373.60" x2="134.60" y2="373.17" stroke="#000" stroke-width="1.0"/>
<line x1="131.80" y1="373.17" x2="137.40" y2="373.17" stroke="#000" stroke-width="1.0"/>
<rect x="129.70" y="373.60" width="9.80" height="37.80" fill="#e2e2e2" stroke="#000" stroke-width="1.1"/>
<text x="137.00" y="419.00" font-size="6.8" font-weight="normal" text-anchor="end" fill="#000" transform="rotate(-45 137.00 419.00)" style="stroke-width:0.3px">RMT1-4</text>
<line x1="149.60" y1="411.40" x2="149.60" y2="414.00" stroke="#000" stroke-width="0.9"/>
<line x1="149.60" y1="329.19" x2="149.60" y2="328.51" stroke="#000" stroke-width="1.0"/>
<line x1="146.80" y1="328.51" x2="152.40" y2="328.51" stroke="#000" stroke-width="1.0"/>
<rect x="144.70" y="329.19" width="9.80" height="82.21" fill="#8f8f8f" stroke="#000" stroke-width="1.1"/>
<text x="152.00" y="419.00" font-size="6.8" font-weight="normal" text-anchor="end" fill="#000" transform="rotate(-45 152.00 419.00)" style="stroke-width:0.3px">RMT1-10</text>
<line x1="164.60" y1="411.40" x2="164.60" y2="414.00" stroke="#000" stroke-width="0.9"/>
<line x1="164.60" y1="402.00" x2="164.60" y2="401.50" stroke="#000" stroke-width="1.0"/>
<line x1="161.80" y1="401.50" x2="167.40" y2="401.50" stroke="#000" stroke-width="1.0"/>
<rect x="159.70" y="402.00" width="9.80" height="9.40" fill="#000" stroke="#000" stroke-width="1.1"/>
<text x="167.00" y="419.00" font-size="6.8" font-weight="normal" text-anchor="end" fill="#000" transform="rotate(-45 167.00 419.00)" style="stroke-width:0.3px">222414</text>
<line x1="45.90" y1="330.70" x2="122.00" y2="330.70" stroke="#000" stroke-width="0.7"/>
<line x1="45.90" y1="336.20" x2="90.80" y2="336.20" stroke="#000" stroke-width="0.7"/>
<line x1="45.90" y1="341.90" x2="73.70" y2="341.90" stroke="#000" stroke-width="0.7"/>
<line x1="45.90" y1="344.10" x2="59.00" y2="344.10" stroke="#000" stroke-width="0.7"/>
<text x="82.70" y="328.00" font-size="6.9" font-weight="bold" text-anchor="middle" fill="#000">N.S.</text>
<text x="67.80" y="337.20" font-size="7.6" font-weight="bold" text-anchor="middle" fill="#000">*</text>
<text x="58.00" y="342.80" font-size="7.6" font-weight="bold" text-anchor="middle" fill="#000">***</text>
<line x1="122.60" y1="324.40" x2="166.40" y2="324.40" stroke="#000" stroke-width="0.7"/>
<line x1="122.60" y1="326.60" x2="150.00" y2="326.60" stroke="#000" stroke-width="0.7"/>
<line x1="122.60" y1="328.80" x2="135.80" y2="328.80" stroke="#000" stroke-width="0.7"/>
<text x="145.20" y="325.20" font-size="7.6" font-weight="bold" text-anchor="middle" fill="#000">*</text>
<text x="128.50" y="337.20" font-size="7.6" font-weight="bold" text-anchor="middle" fill="#000">***</text>
<polyline points="106,441.6 106,446.5 171,446.5 171,441.6" fill="none" stroke="#000" stroke-width="0.8"/>
<text x="141.40" y="456.30" font-size="6.3" font-weight="bold" text-anchor="middle" fill="#000">+ anti-CD3/CD28</text>
</svg>
</body></html>
